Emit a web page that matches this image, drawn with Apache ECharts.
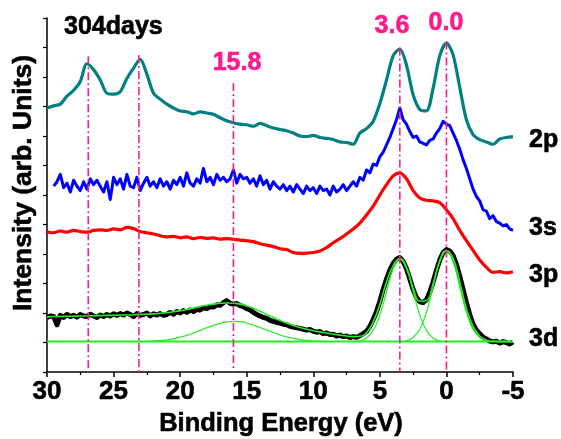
<!DOCTYPE html>
<html><head><meta charset="utf-8">
<script src="https://cdn.jsdelivr.net/npm/echarts/dist/echarts.min.js"></script>
<style>html,body{margin:0;padding:0;background:#fff}#c{width:561px;height:439px}</style>
</head><body><div id="c"></div>
<script>
// ---- data (binding energy in eV, intensity in arb. units, offset spectra) ----
const xTicks = [30, 25, 20, 15, 10, 5, 0, -5];

// 2p spectrum (teal), 30 -> -5 eV, step 0.5
const tealStart = 30, tealStep = 0.5;
const teal2p = [8.95, 9.02, 9.08, 9.35, 9.55, 9.85, 10.45, 10.25, 9.9, 9.45,
  9.42, 9.5, 9.95, 10.3, 10.6, 10.1, 9.45, 9.25, 9.08, 8.95,
  8.85, 8.82, 8.75, 8.82, 8.78, 8.74, 8.62, 8.52, 8.45, 8.4,
  8.38, 8.33, 8.43, 8.35, 8.27, 8.22, 8.18, 8.1, 8.0, 7.98,
  8.02, 7.95, 7.92, 7.88, 7.8, 7.78, 7.72, 8.1, 8.25, 8.5,
  9.1, 9.9, 10.72, 10.95, 10.4, 9.4, 8.9, 8.85, 9.62, 10.72,
  11.15, 10.75, 9.65, 8.55, 8.05, 7.88, 7.8, 7.72, 7.9, 7.95,
  7.98];

// 3s spectrum (blue), 30 -> -5 eV, step 0.25
const blueStart = 30, blueStep = 0.25;
const blue3s = [null, null, 6.3, 6.45, 6.7, 6.25, 6.4, 6.1, 6.5, 6.3,
  6.15, 6.45, 6.2, 6.55, 6.35, 6.5, 6.3, 6.1, 6.45, 5.85,
  6.6, 6.35, 6.55, 6.2, 6.7, 6.3, 6.25, 6.6, 6.15, 6.4,
  6.6, 6.3, 6.45, 6.25, 6.55, 6.3, 6.45, 6.2, 6.5, 6.35,
  6.6, 6.3, 6.75, 6.4, 6.3, 6.55, 6.4, 6.9, 6.45, 6.6,
  6.35, 6.7, 6.5, 6.6, 6.45, 6.55, 6.85, 6.4, 6.7, 6.55,
  6.6, 6.4, 6.55, 6.3, 6.65, 6.35, 6.5, 6.2, 6.45, 6.3,
  6.2, 6.35, 6.15, 6.3, 6.1, 6.35, 6.2, 6.05, 6.3, 6.15,
  6.25, 6.05, 6.3, 6.15, 6.2, 6.0, 6.3, 6.1, 6.2, 6.35,
  6.15, 6.3, 6.45, 6.3, 6.6, 6.5, 6.85, 6.75, 7.05, 7.0,
  7.3, 7.45, 7.7, 7.95, 8.25, 8.55, 8.95, 8.55, 8.4, 8.15,
  7.95, 8.0, 7.8, 7.75, 7.7, 7.85, 7.9, 8.1, 8.25, 8.5,
  8.4, 8.35, 8.1, 7.85, 7.55, 7.2, 6.9, 6.55, 6.2, 5.95,
  5.8, 5.5, 5.45, 5.2, 5.3, 5.1, 5.05, 4.95, 5.0, 4.85,
  4.8];

// 3p spectrum (red), 30 -> -5 eV, step 0.5
const redStart = 30, redStep = 0.5;
const red3p = [4.75, 4.72, 4.78, 4.74, 4.8, 4.76, 4.74, 4.8, 4.82, 4.8,
  4.85, 4.82, 4.9, 4.86, 4.76, 4.72, 4.68, 4.62, 4.58, 4.6,
  4.55, 4.58, 4.52, 4.56, 4.53, 4.55, 4.5, 4.52, 4.5, 4.47,
  4.45, 4.42, 4.35, 4.3, 4.25, 4.18, 4.15, 4.05, 4.02, 4.03,
  4.05, 4.1, 4.22, 4.38, 4.52, 4.68, 4.85, 5.05, 5.32, 5.62,
  6.0, 6.35, 6.65, 6.75, 6.55, 6.15, 5.9, 5.82, 5.8, 5.74,
  5.5, 5.2, 4.8, 4.45, 4.12, 3.8, 3.55, 3.38, 3.4, 3.36,
  3.4];

// 3d spectrum (black), 30 -> -5 eV, step 0.25
const blackStart = 30, blackStep = 0.25;
const black3d = [1.85, 1.9, 1.88, 1.6, 1.92, 1.85, 1.95, 1.88, 1.92, 1.86,
  1.95, 1.9, 1.88, 1.96, 1.9, 1.85, 1.93, 1.88, 1.95, 1.9,
  1.97, 1.92, 1.98, 1.93, 2.0, 1.95, 1.88, 1.98, 1.92, 1.95,
  2.0, 1.9, 1.97, 1.93, 1.98, 1.92, 1.95, 2.02, 1.96, 2.05,
  2.0, 2.08, 2.02, 2.1, 2.05, 2.12, 2.1, 2.18, 2.15, 2.22,
  2.2, 2.28, 2.26, 2.35, 2.42, 2.33, 2.3, 2.32, 2.25, 2.22,
  2.15, 2.1, 2.02, 1.95, 1.9, 1.85, 1.82, 1.75, 1.72, 1.68,
  1.66, 1.62, 1.6, 1.55, 1.52, 1.5, 1.48, 1.45, 1.42, 1.44,
  1.38, 1.35, 1.37, 1.3, 1.32, 1.27, 1.28, 1.22, 1.25, 1.2,
  1.22, 1.17, 1.2, 1.18, 1.23, 1.3, 1.38, 1.55, 1.78, 2.05,
  2.4, 2.8, 3.15, 3.45, 3.68, 3.82, 3.88, 3.75, 3.5, 3.15,
  2.8, 2.52, 2.38, 2.35, 2.45, 2.7, 3.05, 3.45, 3.8, 4.05,
  4.15, 4.1, 3.95, 3.65, 3.25, 2.8, 2.35, 1.95, 1.62, 1.42,
  1.3, 1.18, 1.12, 1.05, 1.02, 1.04, 0.98, 1.03, 1.0, 0.95,
  1.02];

// 3d fit (green): total envelope, step 0.5 from 30
const fitStart = 30, fitStep = 0.5;
const fitTotal = [1.87, 1.88, 1.88, 1.89, 1.89, 1.9, 1.9, 1.91, 1.91, 1.92,
  1.92, 1.93, 1.93, 1.94, 1.95, 1.96, 1.97, 1.99, 2.01, 2.04,
  2.08, 2.12, 2.17, 2.22, 2.26, 2.3, 2.33, 2.34, 2.33, 2.3,
  2.24, 2.16, 2.06, 1.95, 1.85, 1.75, 1.66, 1.58, 1.51, 1.45,
  1.4, 1.36, 1.32, 1.28, 1.25, 1.22, 1.2, 1.21, 1.33, 1.7,
  2.3, 3.05, 3.6, 3.85, 3.55, 2.85, 2.4, 2.42, 3.0, 3.78,
  4.12, 3.85, 3.05, 2.15, 1.55, 1.22, 1.08, 1.04, 1.03, 1.03,
  1.03];
// fit components
const g16Start = 23, g16Step = 0.5;
const peak16 = [1.03, 1.04, 1.05, 1.07, 1.09, 1.13, 1.18, 1.24, 1.32, 1.41,
  1.5, 1.58, 1.65, 1.7, 1.72, 1.71, 1.66, 1.59, 1.51, 1.42,
  1.34, 1.26, 1.19, 1.14, 1.1, 1.07, 1.05, 1.04, 1.03];
const g36Start = 7, g36Step = 0.5;
const peak36 = [1.03, 1.06, 1.15, 1.41, 1.93, 2.72, 3.49, 3.82, 3.49, 2.72, 1.93, 1.41, 1.15, 1.06, 1.03];
const g00Start = 3.5, g00Step = 0.5;
const peak00 = [1.03, 1.06, 1.17, 1.45, 2.03, 2.89, 3.74, 4.1, 3.74, 2.89, 2.03, 1.45, 1.17, 1.06, 1.03];
const baseE = [30, -5];
const baseY = [1.03, 1.03];

// reference lines
const vlineX = [26.9, 23.1, 16.0, 3.5, 0.0];
const vlineTop = [10.7, 10.75, 9.8, 11.0, 11.2];

// labels
const seriesLabels = ['2p', '3s', '3p', '3d'];
const peakLabels = ['15.8', '3.6', '0.0'];

// ---- build ----
function pts(start, step, vals) {
  return vals.map((v, i) => [+(start - i * step).toFixed(3), v]);
}
const FONT = '"Liberation Sans", Arial, sans-serif';
const PINK = '#ff1a8c';
const GREEN = '#22ee22';

function lineSeries(data, color, width, z, smooth) {
  return { type: 'line', data, symbol: 'none', showSymbol: false, silent: true,
    smooth: smooth || false,
    lineStyle: { color, width, join: 'round' }, z, animation: false };
}

const series = [
  lineSeries(pts(tealStart, tealStep, teal2p), '#008080', 3.2, 2, 0.3),
  lineSeries(pts(blueStart, blueStep, blue3s), '#0000ff', 3, 2),
  lineSeries(pts(redStart, redStep, red3p), '#ff0000', 3.2, 2, 0.3),
  lineSeries(pts(blackStart, blackStep, black3d), '#000000', 5, 2),
  lineSeries(baseE.map((e, i) => [e, baseY[i]]), GREEN, 2, 3),
  lineSeries(pts(g16Start, g16Step, peak16), GREEN, 1.2, 3, true),
  lineSeries(pts(g36Start, g36Step, peak36), GREEN, 1.2, 3, true),
  lineSeries(pts(g00Start, g00Step, peak00), GREEN, 1.2, 3, true),
  lineSeries(pts(fitStart, fitStep, fitTotal), GREEN, 1.6, 4, true)
];
vlineX.forEach((x, i) => {
  series.push({ type: 'line', data: [[x, vlineTop[i]], [x, 0]], symbol: 'none', silent: true,
    lineStyle: { color: PINK, width: 1.6, type: [8, 3, 2, 3] }, z: 6, animation: false });
});

function txt(text, x, y, color, align, size) {
  return { type: 'text', x, y, silent: true, z: 10,
    style: { text, fill: color, font: 'bold ' + (size || 25) + 'px ' + FONT,
      stroke: color, lineWidth: 0.6,
      align: align || 'center', textAlign: align || 'center',
      verticalAlign: 'middle', textVerticalAlign: 'middle' } };
}

const graphic = [
  txt('304days', 64, 27, '#000', 'left'),
  txt(peakLabels[0], 237, 63, PINK),
  txt(peakLabels[1], 392, 26, PINK),
  txt(peakLabels[2], 446, 23, PINK),
  txt(seriesLabels[0], 529, 140, '#000', 'left'),
  txt(seriesLabels[1], 529, 228, '#000', 'left'),
  txt(seriesLabels[2], 529, 275, '#000', 'left'),
  txt(seriesLabels[3], 529, 339, '#000', 'left'),
  Object.assign(txt('Intensity (arb. Units)', 24, 183, '#000', 'center', 26.5), { rotation: Math.PI / 2 }),
  txt('Binding Energy (eV)', 281, 424, '#000', 'center', 25.5)
];

const chart = echarts.init(document.getElementById('c'), null, { renderer: 'canvas' });
chart.setOption({
  animation: false,
  backgroundColor: '#fff',
  grid: { left: 47, right: 48, top: 18, bottom: 67, containLabel: false },
  xAxis: {
    type: 'value', inverse: true, min: xTicks[xTicks.length - 1], max: xTicks[0], interval: 5,
    axisLine: { show: true, onZero: false, lineStyle: { color: '#000', width: 1.5 } },
    axisTick: { show: true, inside: false, length: 5, lineStyle: { color: '#000', width: 1.5 } },
    minorTick: { show: true, splitNumber: 2, length: 3, lineStyle: { color: '#000', width: 1.2 } },
    axisLabel: { fontFamily: FONT, fontWeight: 'bold', fontSize: 26, color: '#000', margin: 7,
      textBorderColor: '#000', textBorderWidth: 0.6 },
    splitLine: { show: false }
  },
  yAxis: {
    type: 'value', min: 0, max: 12, interval: 1,
    axisLine: { show: true, onZero: false, lineStyle: { color: '#000', width: 1.5 } },
    axisTick: { show: true, inside: false, length: 4, lineStyle: { color: '#000', width: 1.2 } },
    axisLabel: { show: false },
    splitLine: { show: false }
  },
  graphic,
  series
});
</script></body></html>
